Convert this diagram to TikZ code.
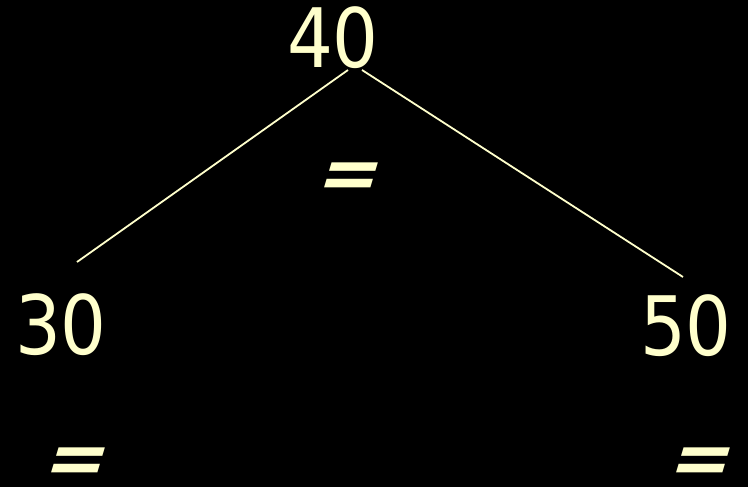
\documentclass[tikz,border=0pt]{standalone}
\usepackage{fontspec}
\setmainfont{DejaVu Sans}
\newfontfamily\numfont{DejaVu Sans}[FakeStretch=0.88]
\newfontfamily\eqfont{DejaVu Sans Bold}[FakeSlant=0.3]
\definecolor{ltyellow}{HTML}{FFFFCC}
\begin{document}
\begin{tikzpicture}[x=1pt,y=1pt,
  num/.style={text=ltyellow,inner sep=0pt,anchor=base,font=\numfont\fontsize{82}{82}\selectfont},
  eqs/.style={text=ltyellow,inner sep=0pt,anchor=center,font=\eqfont\fontsize{74}{74}\selectfont},
  edge/.style={draw=ltyellow,line width=1.8pt}]
\fill[black] (0,0) rectangle (748,487);
\useasboundingbox (0,0) rectangle (748,487);
\node[num] (n40) at (333,419) {40};
\node[num] (n30) at (61,132) {30};
\node[num] (n50) at (686,131) {50};
\node[eqs] (e1) at (344,306) {=};
\node[eqs] (e2) at (72,21) {=};
\node[eqs] (e3) at (696,21) {=};
\coordinate (a1) at (348,417);
\coordinate (a2) at (77,225);
\coordinate (b1) at (362,417);
\coordinate (b2) at (683,210);
\draw[edge] (a1) -- (a2);
\draw[edge] (b1) -- (b2);
\end{tikzpicture}
\end{document}
